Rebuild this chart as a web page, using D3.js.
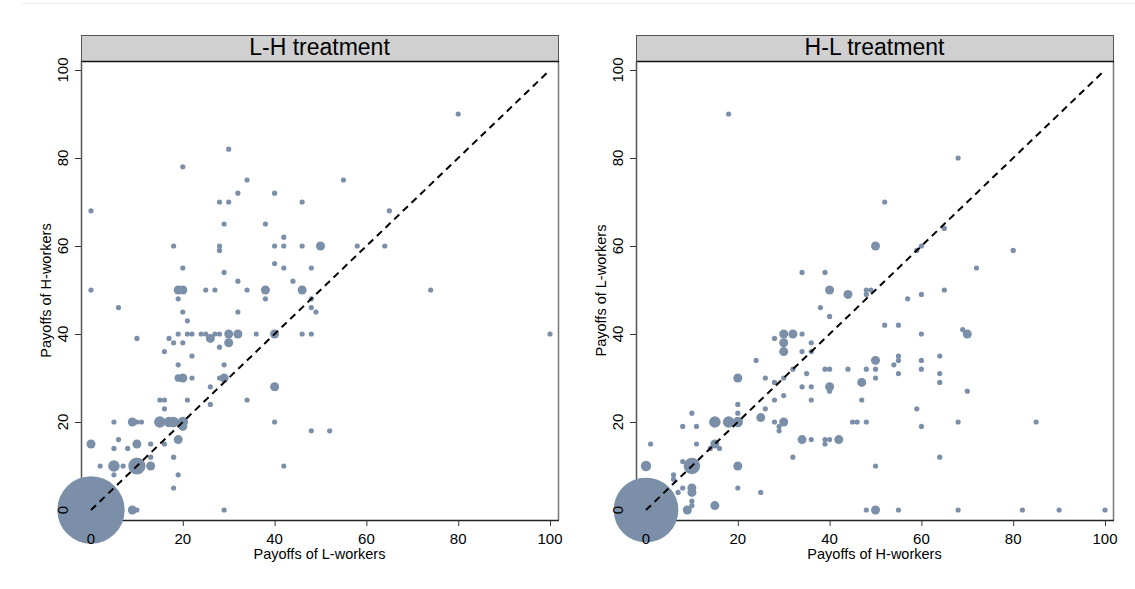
<!DOCTYPE html>
<html>
<head>
<meta charset="utf-8">
<script src="https://cdn.jsdelivr.net/npm/d3@7"></script>
<style>
    body { margin: 0; background: #fff; }
    text { font-family: "Liberation Sans", Arial, sans-serif; fill: #000; }
</style>
</head>
<body>
<svg id="chart" width="1135" height="589"></svg>
<script>
// [x, y, number of observations]
const lhPoints = [
    [0, 0, 168], [30, 82, 1], [20, 78, 1], [34, 75, 1], [55, 75, 1], [0, 68, 1], [32, 72, 1], [40, 72, 1],
    [28, 70, 1], [30, 70, 1], [46, 70, 1], [29, 65, 1], [38, 65, 1], [65, 68, 1], [80, 90, 1], [42, 62, 1],
    [18, 60, 1], [28, 60, 1], [28, 59, 1], [40, 60, 1], [42, 60, 1], [46, 60, 1], [50, 60, 3], [58, 60, 1],
    [64, 60, 1], [40, 56, 1], [42, 55, 1], [20, 55, 1], [48, 55, 1], [29, 54, 1], [44, 52, 1], [32, 52, 1],
    [0, 50, 1], [19, 50, 3], [20, 50, 3], [25, 50, 1], [27, 50, 1], [34, 50, 1], [38, 50, 3], [46, 50, 3],
    [74, 50, 1], [19, 48, 1], [38, 48, 1], [48, 48, 1], [48, 46, 1], [49, 45, 1], [6, 46, 1], [20, 45, 1],
    [32, 45, 1], [21, 43, 1], [10, 39, 1], [17, 39, 1], [18, 38, 1], [20, 38, 1], [19, 40, 1], [21, 40, 1],
    [22, 40, 1], [24, 40, 1], [25, 40, 1], [27, 40, 1], [28, 40, 1], [26, 39, 3], [30, 40, 3], [32, 40, 3],
    [30, 38, 3], [36, 40, 1], [40, 40, 3], [46, 40, 1], [48, 40, 1], [100, 40, 1], [28, 37, 1], [16, 36, 1],
    [22, 35, 1], [19, 33, 1], [29, 33, 1], [19, 30, 2], [20, 30, 3], [22, 30, 1], [28, 30, 1], [29, 30, 3],
    [26, 28, 1], [40, 28, 3], [15, 25, 1], [16, 25, 1], [21, 25, 1], [34, 25, 1], [16, 23, 1], [26, 24, 1],
    [5, 20, 1], [9, 20, 3], [10, 20, 1], [11, 20, 1], [15, 20, 5], [17, 20, 4], [18, 20, 4], [20, 20, 4],
    [20, 19, 3], [40, 20, 1], [48, 18, 1], [52, 18, 1], [19, 16, 3], [0, 15, 3], [6, 16, 1], [5, 14, 1],
    [8, 14, 1], [10, 15, 3], [13, 15, 1], [16, 15, 1], [13, 12, 1], [18, 12, 1], [2, 10, 1], [5, 10, 5],
    [7, 10, 1], [10, 10, 11], [13, 10, 3], [42, 10, 1], [5, 8, 1], [19, 8, 1], [18, 5, 1], [9, 0, 3],
    [10, 0, 1], [29, 0, 1]
];

const hlPoints = [
    [0, 0, 155], [18, 90, 1], [68, 80, 1], [52, 70, 1], [65, 64, 1], [60, 60, 1], [59, 59, 1], [50, 60, 3],
    [80, 59, 1], [72, 55, 1], [34, 54, 1], [39, 54, 1], [40, 50, 3], [44, 49, 3], [48, 50, 1], [49, 50, 1],
    [48, 49, 1], [65, 50, 1], [60, 49, 1], [57, 48, 1], [38, 46, 1], [40, 44, 1], [52, 42, 1], [55, 42, 1],
    [60, 40, 1], [69, 41, 1], [70, 40, 3], [28, 39, 1], [30, 40, 3], [32, 40, 3], [30, 38, 3], [30, 36, 3],
    [34, 40, 1], [36, 38, 1], [34, 36, 1], [36, 36, 1], [24, 34, 1], [50, 34, 3], [50, 32, 1], [55, 35, 1],
    [55, 34, 1], [54, 33, 1], [55, 31, 1], [60, 34, 1], [60, 32, 1], [64, 35, 1], [64, 31, 1], [64, 29, 1],
    [70, 27, 1], [39, 32, 1], [40, 32, 1], [44, 32, 1], [48, 32, 1], [32, 32, 1], [35, 31, 1], [20, 30, 3],
    [26, 30, 1], [28, 29, 1], [30, 30, 1], [50, 30, 1], [47, 29, 3], [40, 28, 3], [40, 27, 1], [34, 28, 1],
    [36, 28, 1], [30, 26, 1], [28, 25, 1], [36, 25, 1], [47, 25, 1], [20, 24, 1], [20, 22, 1], [26, 23, 1],
    [25, 21, 3], [15, 20, 5], [18, 20, 5], [20, 20, 4], [28, 20, 1], [30, 20, 3], [29, 19, 1], [29, 18, 1],
    [45, 20, 1], [46, 20, 1], [48, 20, 1], [59, 23, 1], [60, 19, 1], [68, 20, 1], [85, 20, 1], [10, 22, 1],
    [8, 19, 1], [11, 19, 1], [34, 16, 3], [36, 16, 1], [39, 16, 1], [40, 16, 1], [39, 15, 1], [42, 16, 3],
    [1, 15, 1], [11, 15, 1], [15, 15, 3], [14, 14, 1], [16, 14, 1], [32, 12, 1], [64, 12, 1], [0, 10, 4],
    [8, 11, 1], [10, 10, 10], [20, 10, 3], [50, 10, 1], [6, 8, 1], [6, 7, 1], [7, 4, 1], [8, 5, 1],
    [10, 5, 3], [10, 4, 3], [20, 5, 1], [25, 4, 1], [10, 2, 1], [10, 1, 1], [9, 0, 3], [15, 1, 3],
    [48, 0, 1], [50, 0, 3], [55, 0, 1], [68, 0, 1], [82, 0, 1], [90, 0, 1], [100, 0, 1]
];

const tickValues = [0, 20, 40, 60, 80, 100];
const diagonal = [[0, 0], [100, 100]];

const panels = [
    {title: "L-H treatment", xTitle: "Payoffs of L-workers", yTitle: "Payoffs of H-workers", points: lhPoints, left: 81},
    {title: "H-L treatment", xTitle: "Payoffs of H-workers", yTitle: "Payoffs of L-workers", points: hlPoints, left: 636}
];

const svg = d3.select("#chart");
const pointColor = "#7b8fa8";
const plotTop = 61, plotBottom = 520, plotWidth = 477, headerTop = 35;

// faint page rule at the top
svg.append("line")
    .attr("x1", 22).attr("x2", 1135)
    .attr("y1", 3.5).attr("y2", 3.5)
    .attr("stroke", "#ececec");

const radius = d3.scaleSqrt().domain([0, 1]).range([0, 2.6]);

panels.forEach(p => {
    const right = p.left + plotWidth;
    const x = d3.scaleLinear().domain([0, 100]).range([p.left + 10, right - 8]);
    const y = d3.scaleLinear().domain([0, 100]).range([plotBottom - 10, plotTop + 9]);
    const g = svg.append("g");

    // header strip
    g.append("rect")
        .attr("x", p.left + 0.5).attr("y", headerTop + 0.5)
        .attr("width", plotWidth).attr("height", plotTop - headerTop)
        .attr("fill", "#d0d0d0")
        .attr("stroke", "#555");
    g.append("text")
        .attr("x", (p.left + right) / 2)
        .attr("y", headerTop + 20)
        .attr("text-anchor", "middle")
        .style("font-size", "23px")
        .text(p.title);

    // plot frame
    g.append("path")
        .attr("d", "M" + (right + 0.5) + "," + plotTop + "V" + plotBottom)
        .attr("stroke", "#777").attr("stroke-width", 1.5).attr("fill", "none");
    g.append("line")
        .attr("x1", p.left).attr("x2", right + 1)
        .attr("y1", plotTop + 0.5).attr("y2", plotTop + 0.5)
        .attr("stroke", "#111").attr("stroke-width", 1.5);

    // axes (lines + ticks), labels come later on top of the bubbles
    g.append("g")
        .attr("transform", "translate(0," + plotBottom + ")")
        .call(d3.axisBottom(x).tickValues(tickValues).tickSize(6).tickFormat("").tickSizeOuter(0))
        .call(a => a.select(".domain").attr("d", "M" + p.left + ",0.5H" + (right + 1)).attr("stroke", "#222").attr("stroke-width", 1.5))
        .call(a => a.selectAll(".tick line").attr("stroke", "#333"));
    g.append("g")
        .attr("transform", "translate(" + p.left + ",0)")
        .call(d3.axisLeft(y).tickValues(tickValues).tickSize(6).tickFormat("").tickSizeOuter(0))
        .call(a => a.select(".domain").attr("d", "M0.5," + plotTop + "V" + plotBottom).attr("stroke", "#555").attr("stroke-width", 1.5))
        .call(a => a.selectAll(".tick line").attr("stroke", "#333"));

    // bubbles, largest first
    g.append("g")
        .selectAll("circle")
        .data(p.points.slice().sort((a, b) => b[2] - a[2]))
        .join("circle")
            .attr("cx", d => x(d[0]))
            .attr("cy", d => y(d[1]))
            .attr("r", d => radius(d[2]))
            .attr("fill", pointColor);

    // 45 degree line
    g.append("path")
        .datum(diagonal)
        .attr("d", d3.line().x(d => x(d[0])).y(d => y(d[1])))
        .attr("stroke", "#000")
        .attr("stroke-width", 2)
        .attr("stroke-dasharray", "7,5")
        .attr("fill", "none");

    // tick labels
    g.selectAll(".xlab")
        .data(tickValues)
        .join("text")
            .attr("x", d => x(d))
            .attr("y", plotBottom + 24)
            .attr("text-anchor", "middle")
            .style("font-size", "15px")
            .text(d => d);
    g.selectAll(".ylab")
        .data(tickValues)
        .join("text")
            .attr("transform", d => "translate(" + (p.left - 13) + "," + y(d) + ") rotate(-90)")
            .attr("text-anchor", "middle")
            .style("font-size", "15px")
            .text(d => d);

    // axis titles
    g.append("text")
        .attr("x", (p.left + right) / 2)
        .attr("y", plotBottom + 39)
        .attr("text-anchor", "middle")
        .style("font-size", "14.5px")
        .text(p.xTitle);
    g.append("text")
        .attr("transform", "translate(" + (p.left - 30) + "," + (plotTop + plotBottom) / 2 + ") rotate(-90)")
        .attr("text-anchor", "middle")
        .style("font-size", "14.5px")
        .text(p.yTitle);
});
</script>
</body>
</html>
